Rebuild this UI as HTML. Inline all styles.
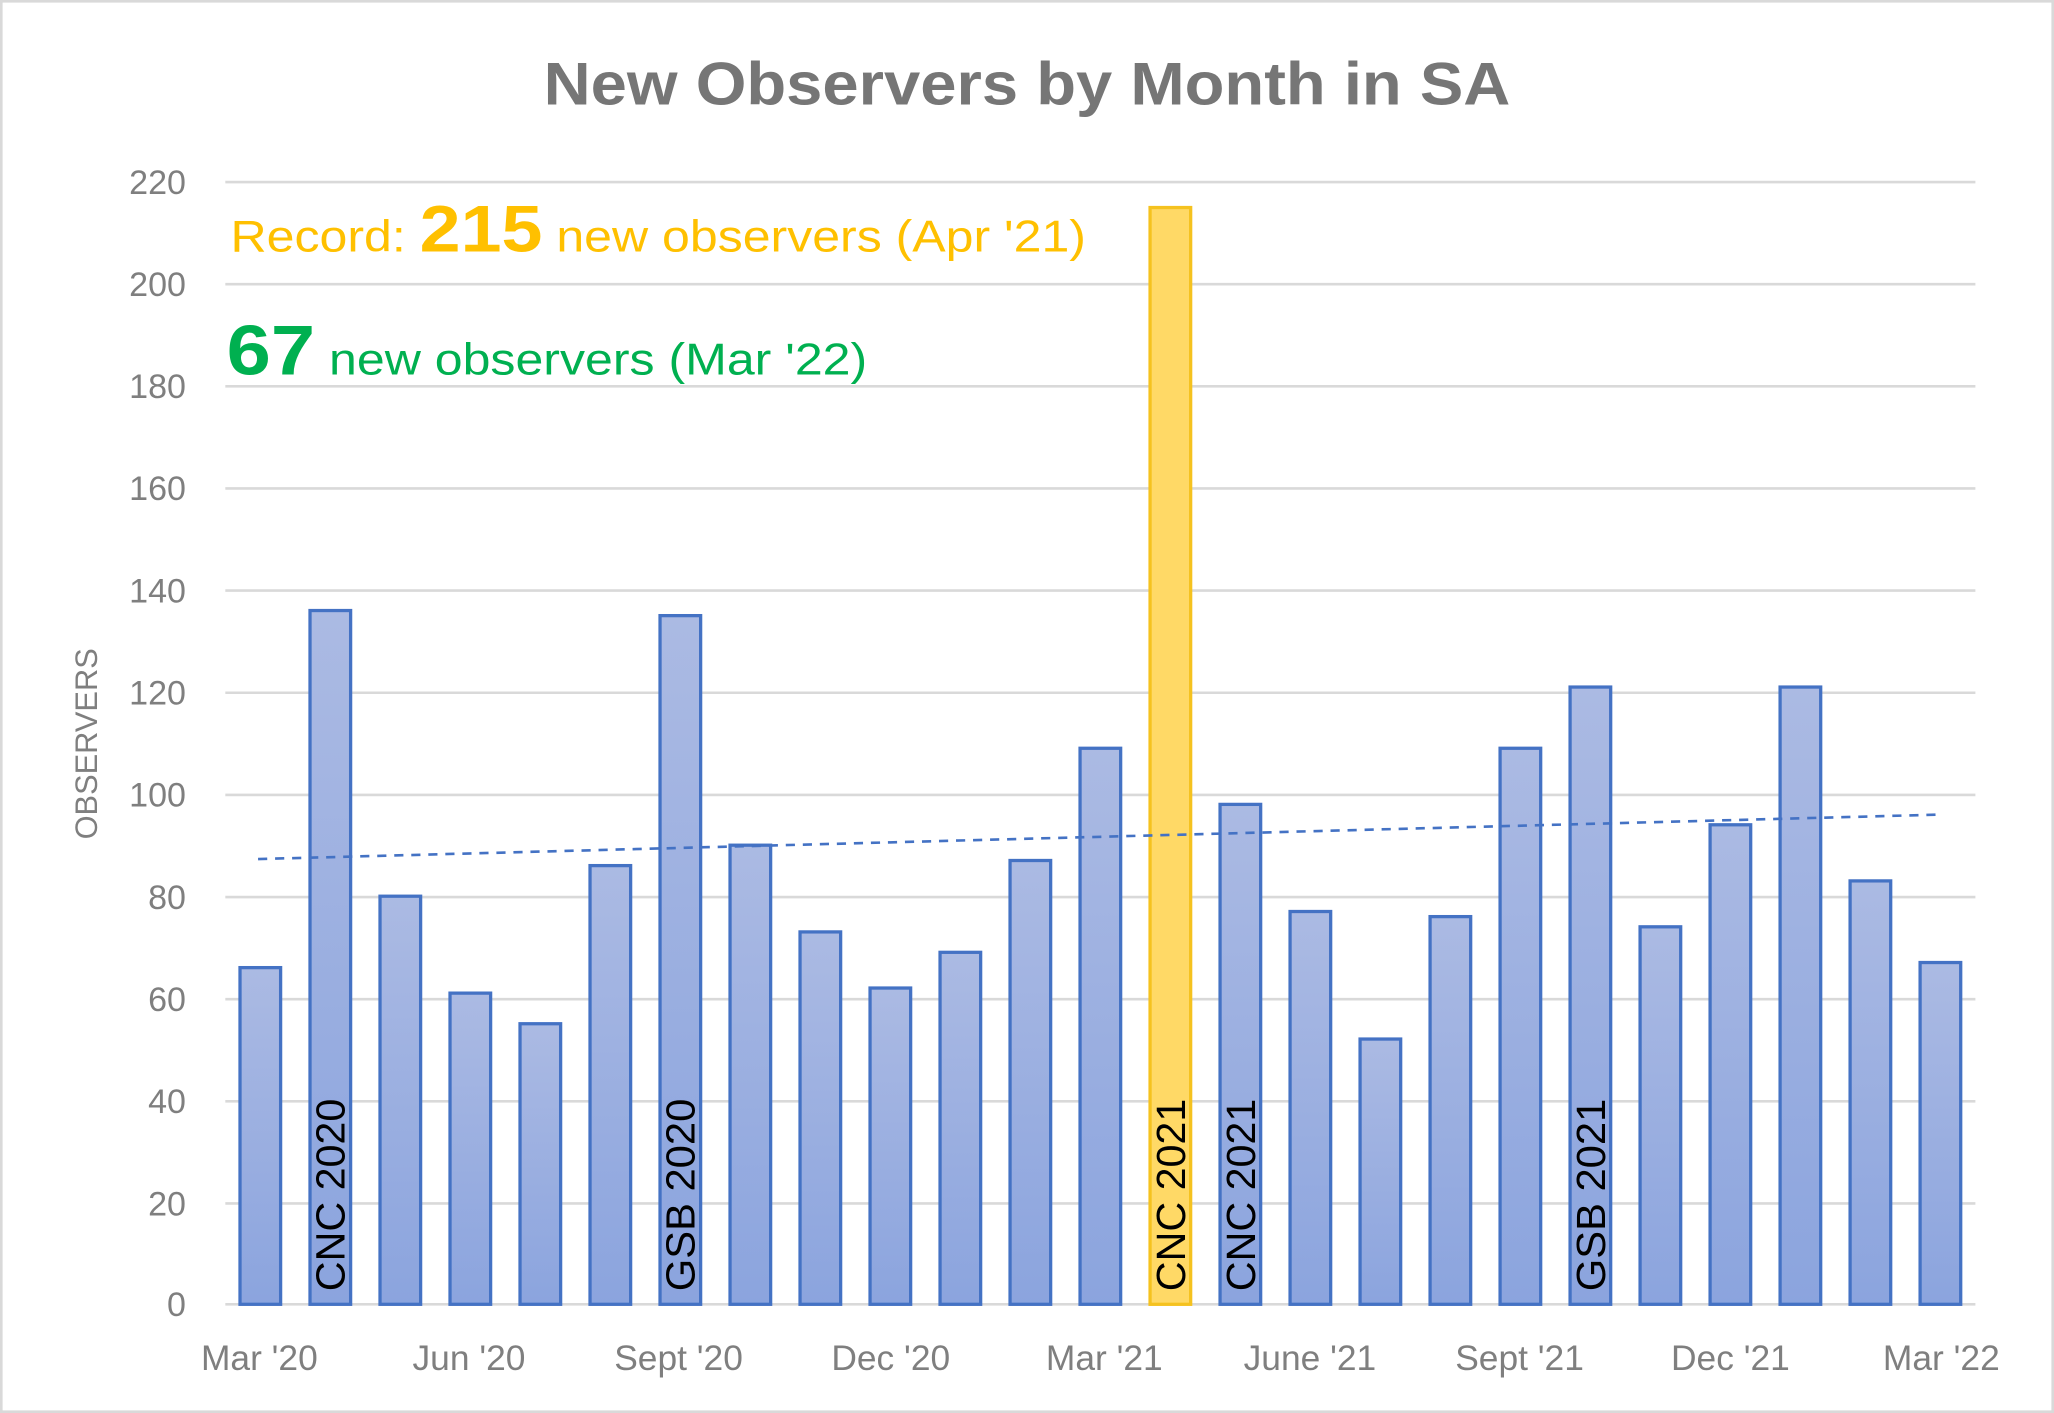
<!DOCTYPE html>
<html><head><meta charset="utf-8"><style>
html,body{margin:0;padding:0;background:#fff}
svg{display:block}
text{font-family:"Liberation Sans",sans-serif}
</style></head><body>
<svg width="2054" height="1413" viewBox="0 0 1568 1079" preserveAspectRatio="none" xmlns="http://www.w3.org/2000/svg">
<defs>
<linearGradient id="g" x1="0" y1="0" x2="0" y2="1"><stop offset="0" stop-color="#abbae3"/><stop offset="1" stop-color="#8ba4de"/></linearGradient>
</defs>
<rect x="1" y="1" width="1566" height="1077" fill="#fff" stroke="#d9d9d9" stroke-width="2"/>
<text x="784" y="80" text-anchor="middle" font-size="46" font-weight="bold" fill="#767676" textLength="738" lengthAdjust="spacingAndGlyphs">New Observers by Month in SA</text>
<g stroke="#d9d9d9" stroke-width="2">
<line x1="172" x2="1508" y1="139" y2="139"/><line x1="172" x2="1508" y1="217" y2="217"/><line x1="172" x2="1508" y1="295" y2="295"/><line x1="172" x2="1508" y1="373" y2="373"/><line x1="172" x2="1508" y1="451" y2="451"/><line x1="172" x2="1508" y1="529" y2="529"/><line x1="172" x2="1508" y1="607" y2="607"/><line x1="172" x2="1508" y1="685" y2="685"/><line x1="172" x2="1508" y1="763" y2="763"/><line x1="172" x2="1508" y1="841" y2="841"/><line x1="172" x2="1508" y1="919" y2="919"/><line x1="172" x2="1508" y1="996" y2="996"/>
</g>
<g font-size="26" fill="#7f7f7f" text-anchor="end">
<text x="142" y="148">220</text><text x="142" y="226">200</text><text x="142" y="304">180</text><text x="142" y="382">160</text><text x="142" y="460">140</text><text x="142" y="538">120</text><text x="142" y="616">100</text><text x="142" y="694">80</text><text x="142" y="772">60</text><text x="142" y="850">40</text><text x="142" y="928">20</text><text x="142" y="1005">0</text>
</g>
<text transform="translate(74,568) rotate(-90)" text-anchor="middle" font-size="24" fill="#7f7f7f" textLength="146" lengthAdjust="spacingAndGlyphs">OBSERVERS</text>
<g id="bars"></g>
<line x1="197" y1="656" x2="1483" y2="622" stroke="#4472c4" stroke-width="2" stroke-dasharray="7,6"/>
<g font-size="27" fill="#7f7f7f" text-anchor="middle">
<text x="198" y="1046">Mar '20</text><text x="358" y="1046">Jun '20</text><text x="518" y="1046">Sept '20</text><text x="680" y="1046">Dec '20</text><text x="843" y="1046">Mar '21</text><text x="1000" y="1046">June '21</text><text x="1160" y="1046">Sept '21</text><text x="1321" y="1046">Dec '21</text><text x="1482" y="1046">Mar '22</text>
</g>
<text x="176" y="192" fill="#ffc000" font-size="34" textLength="653" lengthAdjust="spacingAndGlyphs">Record: <tspan font-size="50" font-weight="bold">215</tspan> new observers (Apr '21)</text>
<text x="173" y="286" fill="#00b050" font-size="34" textLength="489" lengthAdjust="spacingAndGlyphs"><tspan font-size="54" font-weight="bold">67</tspan> new observers (Mar '22)</text>
</svg>
<script>
const v=[66,136,80,61,55,86,135,90,73,62,69,87,109,215,98,77,52,76,109,121,74,94,121,83,67];
const lab={1:"CNC 2020",6:"GSB 2020",13:"CNC 2021",14:"CNC 2021",19:"GSB 2021"};
let s="";const k=857/220;
v.forEach((d,i)=>{const c=172+53.44*(i+0.5);const h=d*k;const x=c-15.5;
 const y=996-h;
 if(i==13)s+=`<rect x="${x}" y="${y}" width="31" height="${h}" fill="#ffd966" stroke="#f5c21f" stroke-width="2.5"/>`;
 else s+=`<rect x="${x}" y="${y}" width="31" height="${h}" fill="url(#g)" stroke="#4472c4" stroke-width="2.5"/>`;
 if(lab[i])s+=`<text transform="translate(${c+11},986) rotate(-90)" font-size="31" fill="#000" textLength="147" lengthAdjust="spacingAndGlyphs">${lab[i]}</text>`;
});
document.getElementById("bars").innerHTML=s;
</script>
</body></html>
